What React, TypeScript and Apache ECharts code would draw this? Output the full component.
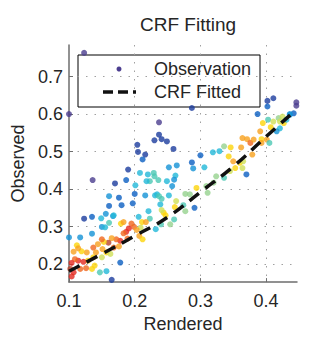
import React, { useEffect, useRef } from "react";
import * as echarts from "echarts";

// Observation points (Rendered, Observed) and colour class (0 = purple ... 12 = dark red)
const obsX = [
  0.123, 0.1, 0.287, 0.237, 0.237, 0.23, 0.241, 0.249, 0.259, 0.204, 0.205, 0.216, 0.212, 0.19, 0.187, 0.17,
  0.136, 0.402, 0.411, 0.402, 0.387, 0.446, 0.446, 0.442, 0.436, 0.37, 0.3, 0.287, 0.289, 0.252, 0.264, 0.306,
  0.319, 0.329, 0.208, 0.22, 0.229, 0.23, 0.223, 0.218, 0.236, 0.249, 0.262, 0.26, 0.257, 0.201, 0.2, 0.216,
  0.231, 0.234, 0.237, 0.241, 0.252, 0.197, 0.18, 0.176, 0.161, 0.161, 0.156, 0.167, 0.149, 0.15, 0.135, 0.123,
  0.135, 0.1, 0.117, 0.161, 0.178, 0.157, 0.147, 0.165, 0.206, 0.221, 0.239, 0.232, 0.24, 0.254, 0.26, 0.263,
  0.277, 0.284, 0.291, 0.277, 0.274, 0.294, 0.309, 0.311, 0.32, 0.324, 0.336, 0.336, 0.346, 0.343, 0.345, 0.353,
  0.35, 0.36, 0.364, 0.365, 0.364, 0.371, 0.376, 0.381, 0.362, 0.379, 0.393, 0.401, 0.391, 0.395, 0.403, 0.407,
  0.411, 0.419, 0.421, 0.425, 0.427, 0.431, 0.436, 0.421, 0.416, 0.405, 0.393, 0.261, 0.244, 0.241, 0.247, 0.223,
  0.211, 0.209, 0.217, 0.195, 0.199, 0.203, 0.191, 0.187, 0.179, 0.183, 0.189, 0.178, 0.172, 0.165, 0.16, 0.168,
  0.176, 0.153, 0.15, 0.144, 0.137, 0.151, 0.141, 0.127, 0.119, 0.112, 0.114, 0.107, 0.15, 0.157, 0.163, 0.137,
  0.129, 0.139, 0.135, 0.122, 0.114, 0.109, 0.104, 0.102, 0.107, 0.104, 0.117, 0.126, 0.207, 0.212, 0.183, 0.155,
  0.168,
];
const obsY = [
  0.763, 0.6, 0.616, 0.578, 0.545, 0.53, 0.533, 0.527, 0.507, 0.518, 0.499, 0.492, 0.479, 0.452, 0.424, 0.415,
  0.424, 0.635, 0.642, 0.62, 0.6, 0.631, 0.622, 0.602, 0.6, 0.439, 0.49, 0.471, 0.455, 0.458, 0.463, 0.458,
  0.498, 0.501, 0.443, 0.439, 0.443, 0.434, 0.421, 0.421, 0.424, 0.421, 0.436, 0.425, 0.408, 0.41, 0.387, 0.383,
  0.383, 0.386, 0.381, 0.374, 0.383, 0.362, 0.357, 0.377, 0.381, 0.355, 0.334, 0.328, 0.322, 0.299, 0.281, 0.321,
  0.326, 0.271, 0.271, 0.31, 0.204, 0.181, 0.178, 0.158, 0.326, 0.341, 0.359, 0.293, 0.306, 0.306, 0.319, 0.368,
  0.387, 0.386, 0.35, 0.341, 0.357, 0.403, 0.408, 0.39, 0.417, 0.434, 0.43, 0.514, 0.511, 0.487, 0.448, 0.456,
  0.474, 0.47, 0.456, 0.474, 0.536, 0.533, 0.523, 0.532, 0.511, 0.492, 0.533, 0.532, 0.554, 0.576, 0.585, 0.565,
  0.58, 0.589, 0.58, 0.593, 0.576, 0.585, 0.598, 0.562, 0.554, 0.523, 0.523, 0.352, 0.337, 0.344, 0.33, 0.321,
  0.312, 0.297, 0.312, 0.308, 0.299, 0.291, 0.295, 0.286, 0.308, 0.282, 0.268, 0.262, 0.266, 0.269, 0.257, 0.244,
  0.247, 0.259, 0.266, 0.253, 0.244, 0.24, 0.231, 0.231, 0.234, 0.25, 0.242, 0.233, 0.218, 0.231, 0.227, 0.218,
  0.209, 0.196, 0.187, 0.206, 0.209, 0.213, 0.203, 0.187, 0.178, 0.167, 0.187, 0.189, 0.275, 0.266, 0.312, 0.298,
  0.33,
];
const obsClass = [
  0, 0, 1, 0, 1, 1, 1, 1, 1, 1, 1, 1, 2, 1, 2, 1,
  0, 1, 1, 2, 2, 0, 0, 2, 3, 2, 2, 2, 3, 3, 3, 4,
  4, 4, 4, 4, 5, 5, 5, 4, 5, 4, 4, 3, 3, 4, 2, 3,
  4, 4, 5, 5, 4, 2, 2, 2, 3, 2, 3, 3, 4, 3, 3, 1,
  2, 3, 3, 5, 2, 4, 5, 1, 4, 4, 4, 4, 5, 6, 5, 7,
  6, 6, 2, 6, 5, 8, 6, 6, 6, 6, 5, 6, 8, 8, 7, 8,
  9, 8, 7, 7, 9, 9, 10, 9, 9, 9, 8, 9, 9, 8, 5, 8,
  7, 6, 7, 7, 8, 4, 3, 4, 3, 5, 9, 8, 8, 7, 8, 5,
  8, 7, 9, 10, 10, 9, 11, 11, 8, 10, 10, 11, 10, 9, 12, 10,
  9, 8, 10, 9, 10, 9, 9, 9, 8, 8, 9, 9, 7, 8, 7, 8,
  8, 8, 8, 11, 11, 10, 11, 12, 11, 11, 10, 10, 9, 8, 9, 4,
  4,
];
const classColors = [
  "#4b3d8f", "#1c3c9e", "#0b5fc2", "#1492d6", "#22b8d8", "#4cc8b4", "#96d28e",
  "#cfe058", "#fcd40a", "#f8a11e", "#f0661e", "#e3291f", "#b8432c",
];

// Fitted camera response curve
const fitX = [0.1, 0.15, 0.2, 0.25, 0.3, 0.35, 0.4, 0.443];
const fitY = [0.181, 0.227, 0.275, 0.325, 0.392, 0.46, 0.54, 0.607];

const xTickLabels = ["0.1", "0.2", "0.3", "0.4"];
const seriesNames = ["Observation", "CRF Fitted"];
const titleText = "CRF Fitting";
const xName = "Rendered";
const yName = "Observed";

const FONT = "Liberation Sans, Arial, sans-serif";
const TXT = "#262626";

export default function App() {
  const ref = useRef<HTMLDivElement>(null);
  useEffect(() => {
    if (!ref.current) return;
    const chart = echarts.init(ref.current, null, { renderer: "svg" });
    const scatterData = obsX.map((x, i) => ({
      value: [x, obsY[i]],
      itemStyle: { color: classColors[obsClass[i]] },
    }));
    const fitData = fitX.map((x, i) => [x, fitY[i]]);
    chart.setOption({
      animation: false,
      backgroundColor: "#ffffff",
      title: {
        text: titleText,
        left: 135,
        top: 10,
        textStyle: { fontSize: 19, fontWeight: "normal", color: TXT, fontFamily: FONT },
      },
      grid: { left: 69, right: 19, top: 45, bottom: 55, containLabel: false },
      xAxis: {
        type: "value",
        min: 0.1,
        max: 0.447,
        interval: 0.1,
        name: xName,
        nameLocation: "middle",
        nameGap: 30,
        nameTextStyle: { fontSize: 18, color: TXT, fontFamily: FONT },
        axisLine: { show: true, lineStyle: { color: "#6e6e6e", width: 1.5 } },
        axisTick: { show: true, inside: true, length: 4, lineStyle: { color: "#6e6e6e" } },
        axisLabel: {
          fontSize: 18,
          color: TXT,
          fontFamily: FONT,
          margin: 10,
          showMaxLabel: false,
          formatter: (v: number) => {
            const s = v.toFixed(1);
            return xTickLabels.includes(s) ? s : "";
          },
        },
        splitLine: {
          show: true,
          showMinLine: false,
          showMaxLine: false,
          lineStyle: { color: "#a0a0a0", type: [1.5, 7], width: 1 },
        },
      },
      yAxis: {
        type: "value",
        min: 0.152,
        max: 0.784,
        splitNumber: 5,
        name: yName,
        nameLocation: "middle",
        nameGap: 40,
        nameTextStyle: { fontSize: 18, color: TXT, fontFamily: FONT },
        axisLine: { show: true, lineStyle: { color: "#6e6e6e", width: 1.5 } },
        axisTick: { show: true, inside: true, length: 4, lineStyle: { color: "#6e6e6e" } },
        axisLabel: {
          fontSize: 18,
          color: TXT,
          fontFamily: FONT,
          margin: 6,
          showMinLabel: false,
          showMaxLabel: false,
          formatter: (v: number) => v.toFixed(1),
        },
        splitLine: {
          show: true,
          showMinLine: false,
          showMaxLine: false,
          lineStyle: { color: "#a0a0a0", type: [1.5, 7], width: 1 },
        },
      },
      series: [
        {
          name: seriesNames[0],
          type: "scatter",
          symbol: "circle",
          symbolSize: 6,
          data: scatterData,
          z: 2,
        },
        {
          name: seriesNames[1],
          type: "line",
          data: fitData,
          smooth: true,
          showSymbol: false,
          lineStyle: { color: "#111111", width: 3.5, type: [12, 8] },
          z: 3,
        },
      ],
      graphic: [
        {
          type: "group",
          z: 100,
          children: [
            {
              type: "rect",
              shape: { x: 78, y: 55, width: 182, height: 52 },
              style: { fill: "#ffffff", stroke: "#000000", lineWidth: 1 },
            },
            {
              type: "circle",
              shape: { cx: 119, cy: 69, r: 2.5 },
              style: { fill: classColors[0] },
            },
            {
              type: "text",
              x: 154,
              y: 69,
              style: {
                text: seriesNames[0],
                fontSize: 18,
                fontFamily: FONT,
                fill: TXT,
                verticalAlign: "middle",
                align: "left",
              },
            },
            {
              type: "line",
              shape: { x1: 103, y1: 92, x2: 136, y2: 92 },
              style: { stroke: "#111111", lineWidth: 3.5, lineDash: [10, 5] },
            },
            {
              type: "text",
              x: 154,
              y: 92,
              style: {
                text: seriesNames[1],
                fontSize: 18,
                fontFamily: FONT,
                fill: TXT,
                verticalAlign: "middle",
                align: "left",
              },
            },
          ],
        },
      ],
    });
    return () => chart.dispose();
  }, []);
  return (
    <div
      ref={ref}
      style={{ position: "fixed", left: 0, top: 0, width: 316, height: 338, background: "#fff" }}
    />
  );
}
